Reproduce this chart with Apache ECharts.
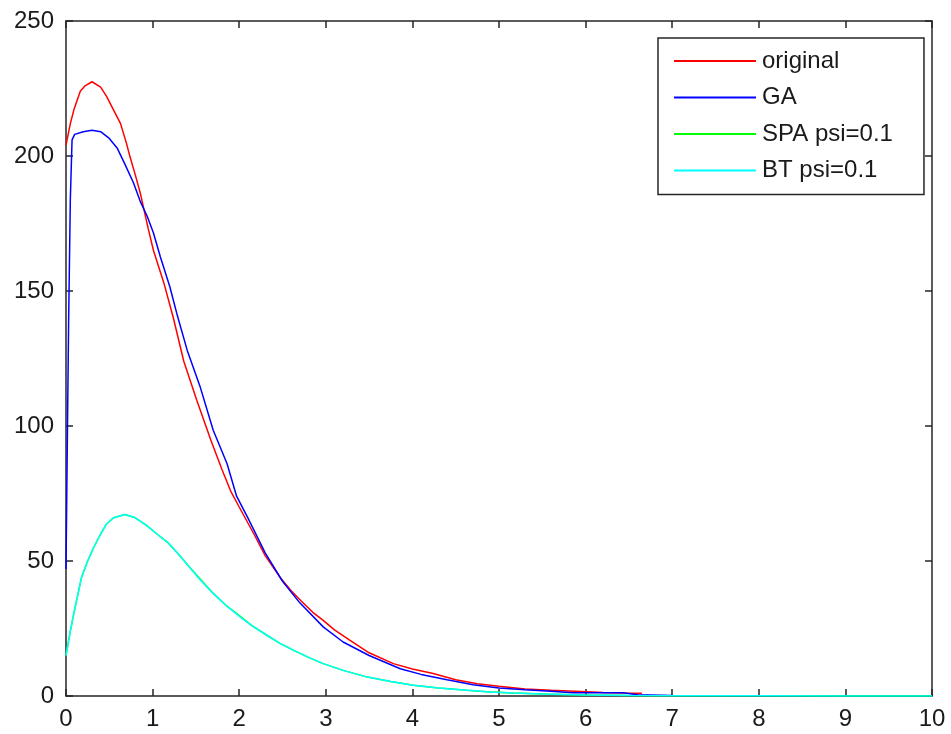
<!DOCTYPE html>
<html>
<head>
<meta charset="utf-8">
<script src="https://cdn.jsdelivr.net/npm/echarts@6/dist/echarts.min.js"></script>
<style>html,body{margin:0;padding:0;background:#fff;}#c{width:951px;height:734px;}</style>
</head>
<body>
<div id="c"></div>
<script>
// Series names
var seriesNames = ['original', 'GA', 'SPA psi=0.1', 'BT psi=0.1'];
// Tick labels
var xTicks = [0,1,2,3,4,5,6,7,8,9,10];
var yTicks = [0,50,100,150,200,250];

// original (red)
var originalX = [0,0.05,0.09,0.165,0.22,0.3,0.4,0.47,0.55,0.63,0.7,0.74,0.8,0.86,0.95,1.01,1.13,1.24,1.36,1.51,1.67,1.8,1.9,2.0,2.17,2.3,2.47,2.6,2.71,2.85,2.97,3.1,3.28,3.5,3.78,4.0,4.24,4.5,4.75,5.0,5.3,5.6,5.94,6.2,6.44,6.65];
var originalY = [204,212,217,224,226,227.5,225.5,222,217,212,204.5,199.6,193,186,173,165,153,140,124,109.5,95,84,76,70,60,52,44,39,35.4,31,28,24.5,20.6,16,12,10,8.3,6,4.5,3.6,2.6,2.1,1.7,1.3,1.1,1.0];

// GA (blue)
var gaX = [0,0.015,0.03,0.05,0.07,0.1,0.2,0.3,0.4,0.5,0.59,0.68,0.78,0.86,0.94,1.01,1.09,1.2,1.28,1.4,1.55,1.7,1.86,1.97,2.1,2.3,2.5,2.7,2.97,3.2,3.5,3.86,4.1,4.4,4.7,5.0,5.3,5.6,5.85,6.43,6.6,7,8,9,10];
var gaY = [47,93,138,184,206,208,209,209.5,209,206.5,203,197,190,183,177.5,171.5,162.6,151.5,141.6,128,114.4,98.4,86,74,66,53,42.5,34.5,25.6,20,15,10.1,8,6,4.2,3.0,2.3,1.8,1.2,1.2,0.5,0.2,0.1,0,0];

// SPA psi=0.1 (green)
var spaX = [0,0.05,0.09,0.18,0.25,0.32,0.4,0.47,0.55,0.68,0.8,0.93,1.05,1.17,1.3,1.42,1.55,1.7,1.85,2.01,2.15,2.32,2.47,2.63,2.8,2.97,3.2,3.48,3.75,4.01,4.3,4.63,4.9,5.17,5.5,6,6.5,7,8,9,10];
var spaY = [15,24,30.5,44,50,55,60,63.8,66,67.2,66,63.2,60,57,52.5,48,43.3,38,33.5,29.6,26,22.5,19.5,16.9,14.3,12,9.5,7,5.4,4,3,2.1,1.5,1.1,0.7,0.4,0.2,0.1,0.05,0,0];

// BT psi=0.1 (cyan)
var btX = [0,0.05,0.09,0.18,0.25,0.32,0.4,0.47,0.55,0.68,0.8,0.93,1.05,1.17,1.3,1.42,1.55,1.7,1.85,2.01,2.15,2.32,2.47,2.63,2.8,2.97,3.2,3.48,3.75,4.01,4.3,4.63,4.9,5.17,5.5,6,6.5,7,8,9,10];
var btY = [15,24,30.5,44,50,55,60,63.8,66,67.2,66,63.2,60,57,52.5,48,43,38,33.5,29.3,26,22.5,19.5,16.9,14.3,12,9.5,7,5.4,4,3,2.1,1.5,1.1,0.7,0.4,0.2,0.1,0.05,0,0];

function pairs(xs, ys){ return xs.map(function(x,i){ return [x, ys[i]]; }); }

var colors = ['#ff0000','#0000ff','#00ff00','#00ffff'];
var dataSets = [pairs(originalX, originalY), pairs(gaX, gaY), pairs(spaX, spaY), pairs(btX, btY)];

var font = '"Liberation Sans", Arial, sans-serif';
var chart = echarts.init(document.getElementById('c'), null, {renderer:'canvas'});

var tickStyle = {show:true, inside:true, length:7, lineStyle:{color:'#262626', width:1.5}};
var axisLineStyle = {show:true, onZero:false, lineStyle:{color:'#262626', width:1.5}};

chart.setOption({
  backgroundColor:'#ffffff',
  animation:false,
  grid:{left:66, top:21, right:19, bottom:38, containLabel:false},
  legend:{
    data:seriesNames,
    orient:'vertical',
    left:658, top:38,
    itemWidth:82, itemHeight:18, itemGap:12.5,
    padding:[11,31,12,15],
    borderColor:'#262626', borderWidth:1.5, backgroundColor:'#fff',
    itemStyle:{opacity:0},
    textStyle:{fontFamily:font, fontSize:24, color:'#1a1a1a', padding:[0,0,0,1]}
  },
  xAxis:[{
    type:'value', min:0, max:10, interval:1, position:'bottom',
    axisLine:axisLineStyle, axisTick:tickStyle, splitLine:{show:false},
    axisLabel:{color:'#1a1a1a', fontFamily:font, fontSize:24, margin:11,
      formatter:function(v){ return xTicks.indexOf(v) >= 0 ? String(v) : ''; }}
  },{
    type:'value', min:0, max:10, interval:1, position:'top',
    axisLine:axisLineStyle, axisTick:tickStyle, splitLine:{show:false}, axisLabel:{show:false}
  }],
  yAxis:[{
    type:'value', min:0, max:250, interval:50, position:'left',
    axisLine:axisLineStyle, axisTick:tickStyle, splitLine:{show:false},
    axisLabel:{color:'#1a1a1a', fontFamily:font, fontSize:24, margin:12,
      formatter:function(v){ return yTicks.indexOf(v) >= 0 ? String(v) : ''; }}
  },{
    type:'value', min:0, max:250, interval:50, position:'right',
    axisLine:axisLineStyle, axisTick:tickStyle, splitLine:{show:false}, axisLabel:{show:false}
  }],
  series: seriesNames.map(function(n,i){
    return {
      name:n, type:'line', data:dataSets[i], symbol:'none', showSymbol:false,
      lineStyle:{color:colors[i], width:1.5}, itemStyle:{color:colors[i]},
      z: 2 + i, clip:true
    };
  })
});
</script>
</body>
</html>
